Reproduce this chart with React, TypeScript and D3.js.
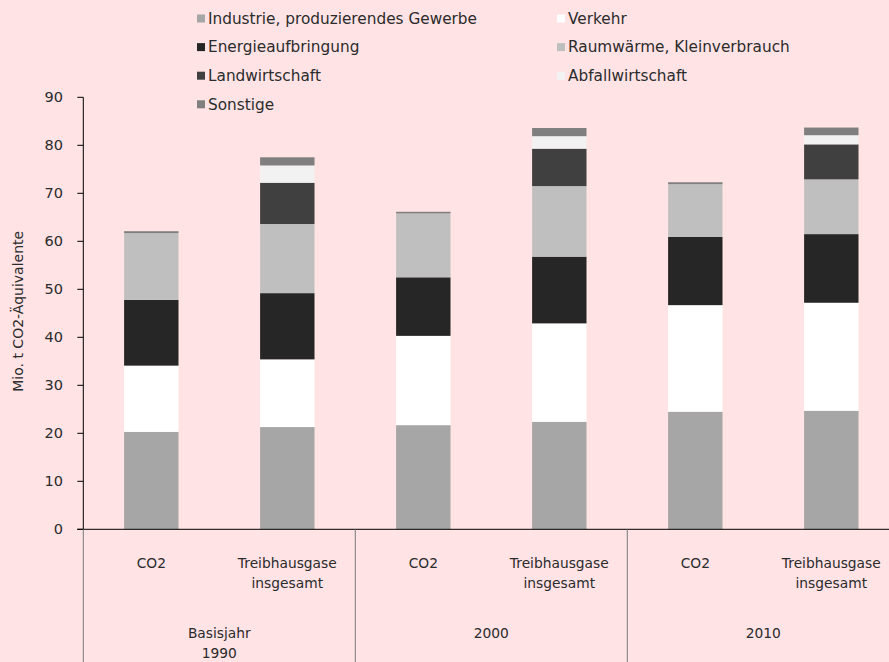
import React from "react";
import * as d3 from "d3";

const groups = ["Basisjahr\n1990", "2000", "2010"];
const barLabels = ["CO2", "Treibhausgase\ninsgesamt"];
const seriesNames = [
  "Industrie, produzierendes Gewerbe",
  "Verkehr",
  "Energieaufbringung",
  "Raumwärme, Kleinverbrauch",
  "Landwirtschaft",
  "Abfallwirtschaft",
  "Sonstige",
];
const seriesColors = ["#A6A6A6", "#FFFFFF", "#262626", "#BFBFBF", "#404040", "#F2F2F2", "#7F7F7F"];

// order of bars: 1990 CO2, 1990 THG, 2000 CO2, 2000 THG, 2010 CO2, 2010 THG
const industrie = [20.3, 21.3, 21.7, 22.4, 24.5, 24.7];
const verkehr = [13.8, 14.1, 18.6, 20.5, 22.2, 22.5];
const energie = [13.7, 13.8, 12.2, 13.9, 14.2, 14.3];
const raumwaerme = [13.9, 14.4, 13.3, 14.7, 11.0, 11.4];
const landwirtschaft = [0, 8.6, 0, 7.8, 0, 7.3];
const abfall = [0, 3.6, 0, 2.6, 0, 1.9];
const sonstige = [0.4, 1.7, 0.35, 1.7, 0.4, 1.6];

const yTicks = [0, 10, 20, 30, 40, 50, 60, 70, 80, 90];

const W = 889;
const H = 662;
const FONT = "'DejaVu Sans', sans-serif";

export default function App() {
  const seriesArrays = [industrie, verkehr, energie, raumwaerme, landwirtschaft, abfall, sonstige];
  const rows = industrie.map((_, i) => {
    const r: any = { idx: i };
    seriesNames.forEach((s, k) => (r[s] = seriesArrays[k][i]));
    return r;
  });
  const stacked = d3.stack<any>().keys(seriesNames)(rows);

  const left = 83.3;
  const bandW = 136;
  const x = d3
    .scaleBand<number>()
    .domain(d3.range(6))
    .range([left, left + bandW * 6])
    .paddingInner(0.6)
    .paddingOuter(0.3);
  const y = d3.scaleLinear().domain([0, 90]).range([529.3, 97.3]);
  const gx = d3.scaleBand<number>().domain([0, 1, 2]).range([left, left + bandW * 6]);

  return (
    <div style={{ position: "absolute", left: 0, top: 0 }}>
      <svg width={W} height={H} style={{ display: "block", background: "#FFE3E5" }} fontFamily={FONT}>
        <rect x={0} y={0} width={W} height={H} fill="#FFE3E5" />
        {/* bars */}
        {stacked.map((layer, k) => (
          <g key={k} fill={seriesColors[k]}>
            {layer.map((d, i) =>
              d[1] - d[0] > 0 ? (
                <rect
                  key={i}
                  x={x(i)}
                  width={x.bandwidth()}
                  y={y(d[1])}
                  height={y(d[0]) - y(d[1])}
                />
              ) : null
            )}
          </g>
        ))}
        {/* y axis */}
        <line x1={left} x2={left} y1={y(90)} y2={y(0)} stroke="#000" strokeWidth={1} />
        {yTicks.map((t) => (
          <g key={t}>
            <line x1={left - 6} x2={left} y1={y(t)} y2={y(t)} stroke="#000" />
            <text x={63} y={y(t)} dy="0.35em" textAnchor="end" fontSize={14.5} fill="#2b2b2b">
              {t}
            </text>
          </g>
        ))}
        <text
          transform={`translate(18,${(y(0) + y(90)) / 2 - 2}) rotate(-90)`}
          textAnchor="middle"
          dy="0.35em"
          fontSize={14}
          fill="#2b2b2b"
        >
          Mio. t CO2-Äquivalente
        </text>
        {/* x axis baseline */}
        <line x1={left - 6} x2={W} y1={y(0)} y2={y(0)} stroke="#000" />
        {/* category separators */}
        {[0, 1, 2].map((g) => (
          <line
            key={g}
            x1={gx(g)!}
            x2={gx(g)!}
            y1={y(0)}
            y2={H}
            stroke="#7a7a7a"
          />
        ))}
        {/* bar labels */}
        {d3.range(6).map((i) => {
          const cx = x(i)! + x.bandwidth() / 2;
          const lines = barLabels[i % 2].split("\n");
          return (
            <text key={i} x={cx} textAnchor="middle" fontSize={13.8} fill="#2b2b2b">
              {lines.map((l, j) => (
                <tspan key={j} x={cx} y={568 + j * 19.5}>
                  {l}
                </tspan>
              ))}
            </text>
          );
        })}
        {/* group labels */}
        {groups.map((g, i) => {
          const cx = gx(i)! + gx.bandwidth() / 2;
          const lines = g.split("\n");
          return (
            <text key={i} x={cx} textAnchor="middle" fontSize={13.8} fill="#2b2b2b">
              {lines.map((l, j) => (
                <tspan key={j} x={cx} y={638 + j * 19.5}>
                  {l}
                </tspan>
              ))}
            </text>
          );
        })}
        {/* legend */}
        {seriesNames.map((s, k) => {
          const col = k % 2;
          const row = Math.floor(k / 2);
          const lx = col === 0 ? 197 : 557;
          const ly = 18.5 + row * 28.6;
          return (
            <g key={s}>
              <rect x={lx} y={ly - 4} width={8} height={8} fill={seriesColors[k]} />
              <text x={lx + 11} y={ly} dy="0.35em" fontSize={15.3} fill="#2b2b2b">
                {s}
              </text>
            </g>
          );
        })}
      </svg>
    </div>
  );
}
